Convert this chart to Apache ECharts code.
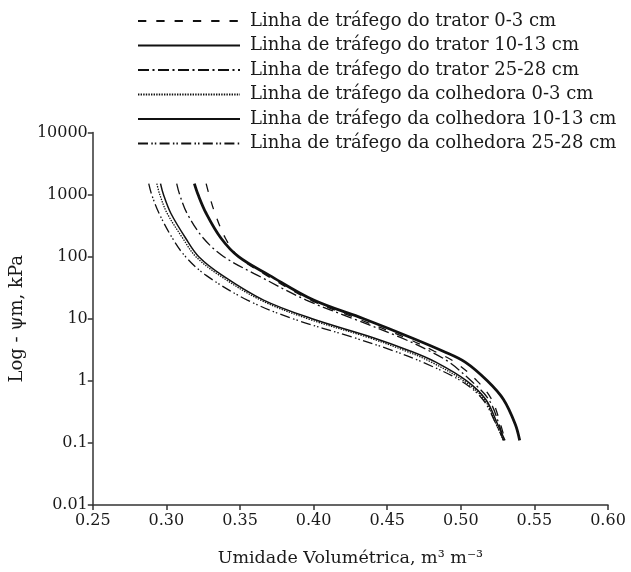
<!DOCTYPE html>
<html><head><meta charset="utf-8">
<script src="https://cdn.jsdelivr.net/npm/echarts@6/dist/echarts.min.js"></script>
<style>html,body{margin:0;padding:0;background:#fff}#c{width:631px;height:572px}</style>
</head><body><div id="c"></div>
<script>
// Matric suction (kPa) at which each curve was read
const suctionKPa = [1500, 1000, 500, 200, 100, 50, 20, 10, 5, 3, 2, 1, 0.5, 0.2, 0.11];
// Volumetric water content (m3 m-3) for each curve at the suctions above
const tratorTopo   = [0.327, 0.329, 0.333, 0.340, 0.349, 0.368, 0.398, 0.430, 0.462, 0.482, 0.496, 0.511, 0.521, 0.527, 0.530];
const tratorMeio   = [0.319, 0.3215, 0.327, 0.337, 0.349, 0.370, 0.400, 0.434, 0.466, 0.488, 0.503, 0.518, 0.529, 0.537, 0.540];
const tratorFundo  = [0.307, 0.309, 0.314, 0.325, 0.339, 0.362, 0.395, 0.427, 0.459, 0.479, 0.492, 0.507, 0.519, 0.526, 0.529];
const colhTopo     = [0.2935, 0.2955, 0.3005, 0.311, 0.320, 0.336, 0.364, 0.396, 0.437, 0.463, 0.480, 0.502, 0.516, 0.524, 0.529];
const colhMeio     = [0.296, 0.298, 0.303, 0.313, 0.322, 0.338, 0.366, 0.399, 0.440, 0.466, 0.483, 0.504, 0.517, 0.525, 0.530];
const colhFundo    = [0.288, 0.290, 0.295, 0.304, 0.313, 0.327, 0.355, 0.386, 0.427, 0.455, 0.474, 0.500, 0.515, 0.524, 0.529];

const seriesNames = [
  'Linha de tráfego do trator 0-3 cm',
  'Linha de tráfego do trator 10-13 cm',
  'Linha de tráfego do trator 25-28 cm',
  'Linha de tráfego da colhedora 0-3 cm',
  'Linha de tráfego da colhedora 10-13 cm',
  'Linha de tráfego da colhedora 25-28 cm'
];
const yTickLabels = ['0.01', '0.1', '1', '10', '100', '1000', '10000'];
const xTickLabels = ['0.25', '0.30', '0.35', '0.40', '0.45', '0.50', '0.55', '0.60'];

const curves = [tratorTopo, tratorMeio, tratorFundo, colhTopo, colhMeio, colhFundo];
const styles = [
  {width: 1.3, type: [8.3, 10]},
  {width: 2.8, type: 'solid'},
  {width: 1.3, type: [11, 3.5, 2, 3.5]},
  {width: 1.3, type: [1.4, 1.2]},
  {width: 1.5, type: 'solid'},
  {width: 1.3, type: [10, 3.3, 1.5, 2, 1.5, 3.3]}
];
const FONT = 'DejaVu Serif';
const INK = '#1a1a1a';

const chart = echarts.init(document.getElementById('c'));
chart.setOption({
  animation: false,
  backgroundColor: '#fff',
  grid: {left: 86, right: 23, top: 132.5, bottom: 64.5},
  legend: {
    orient: 'vertical', left: 132, top: 7,
    itemWidth: 102, itemHeight: 14, itemGap: 6.5,
    itemStyle: {opacity: 0},
    textStyle: {fontFamily: FONT, fontSize: 18, lineHeight: 16, color: INK, padding: [0, 0, 0, 5]},
    data: seriesNames
  },
  xAxis: {
    type: 'value', min: 0.25, max: 0.60, interval: 0.05,
    name: 'Umidade Volumétrica, m³ m⁻³', nameLocation: 'middle', nameGap: 44,
    nameTextStyle: {fontFamily: FONT, fontSize: 17.5, color: INK},
    axisLine: {lineStyle: {color: '#333', width: 1.5}},
    axisTick: {length: 5, lineStyle: {color: '#333', width: 1.5}},
    axisLabel: {fontFamily: FONT, fontSize: 16, color: INK, margin: 8,
      formatter: v => xTickLabels[Math.round((v - 0.25) / 0.05)]},
    splitLine: {show: false}
  },
  yAxis: {
    type: 'log', logBase: 10, min: 0.01, max: 10000,
    name: 'Log - ψm, kPa', nameLocation: 'middle', nameGap: 58, nameRotate: 90,
    nameTextStyle: {fontFamily: FONT, fontSize: 18, color: INK},
    axisLine: {show: true, lineStyle: {color: '#333', width: 1.5}},
    axisTick: {show: true, length: 5, lineStyle: {color: '#333', width: 1.5}},
    axisLabel: {fontFamily: FONT, fontSize: 16, color: INK, margin: 5,
      formatter: v => yTickLabels[Math.round(Math.log10(v)) + 2]},
    splitLine: {show: false}
  },
  series: curves.map((c, i) => ({
    name: seriesNames[i], type: 'line', smooth: 0.35,
    symbol: 'none', color: '#111',
    lineStyle: {color: '#111', width: styles[i].width, type: styles[i].type},
    data: suctionKPa.map((h, k) => [c[k], h])
  }))
});
</script></body></html>
